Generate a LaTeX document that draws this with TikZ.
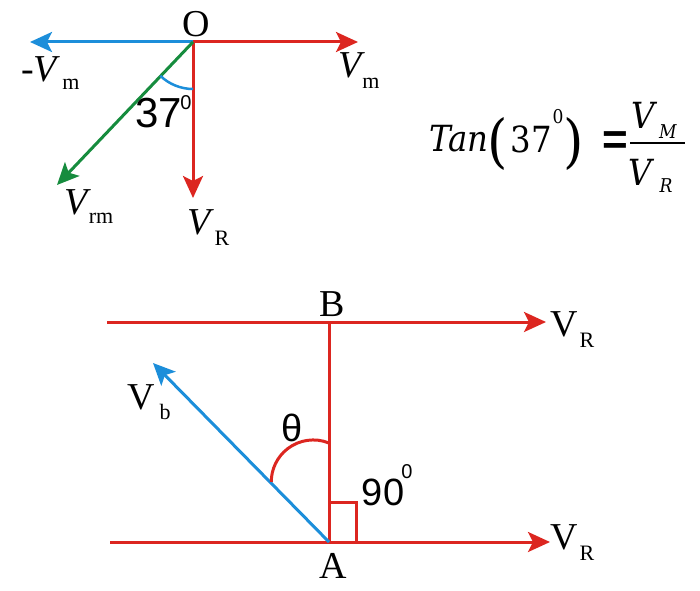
\documentclass[tikz,border=0pt]{standalone}
\usepackage{fontspec}
\setmainfont{Liberation Serif}
\setsansfont{Liberation Sans}
\newfontfamily\eqfont[FakeStretch=0.9]{DejaVu Serif}
\usetikzlibrary{arrows.meta}
\definecolor{vred}{RGB}{220,38,32}
\definecolor{vblue}{RGB}{28,142,218}
\definecolor{vgreen}{RGB}{22,140,62}
\tikzset{
  vec/.style={line width=3pt,-{Stealth[length=22pt,width=20pt,inset=5pt]}},
  big/.style={font=\fontsize{38}{38}\selectfont,inner sep=0pt},
  sub/.style={font=\fontsize{22}{22}\selectfont,inner sep=0pt},
  sbig/.style={font=\sffamily\fontsize{38}{38}\selectfont,inner sep=0pt},
  ssub/.style={font=\sffamily\fontsize{20}{20}\selectfont,inner sep=0pt},
  ebig/.style={font=\eqfont\fontsize{36}{36}\selectfont,inner sep=0pt},
  esub/.style={font=\eqfont\fontsize{19}{19}\selectfont,inner sep=0pt},
}
\begin{document}
\begin{tikzpicture}[x=1pt,y=1pt]
  \useasboundingbox (0,0) rectangle (700,590);
  % relative velocity triangle
  \coordinate (O) at (193,548);
  \coordinate (negm) at (30,548);
  \coordinate (mtip) at (358,548);
  \coordinate (Rtip) at (193,392);
  \coordinate (rmtip) at (57,405);
  \draw[vec,vblue] (O) -- (negm);
  \draw[vec,vred] (O) -- (mtip);
  \draw[vec,vred] (O) -- (Rtip);
  \draw[vec,vgreen] (O) -- (rmtip);
  \draw[vblue,line width=2.5pt] (O) ++(-90:47) arc[start angle=-90,end angle=-134,radius=47];
  \node[big] (lO) at (196,566) {O};
  \node[big] (lnegV) at (41,521) {-\textit{V}};
  \node[sub] (lnegm) at (71,506) {m};
  \node[big] (lV) at (352,525) {\textit{V}};
  \node[sub] (lm) at (371,507) {m};
  \node[sbig,font=\sffamily\fontsize{42}{42}\selectfont] (l37) at (159,477) {37};
  \node[ssub] (l37d) at (186,487) {0};
  \node[big] (lVrm) at (78,388) {\textit{V}};
  \node[sub] (lrm) at (101,372) {rm};
  \node[big] (lVR) at (201,368) {\textit{V}};
  \node[sub] (lR) at (222,352) {R};
  % tan relation
  \node[ebig] (tan) at (459,451) {\textit{Tan}};
  \node[ebig,font=\eqfont\fontsize{58}{58}\selectfont] (lpar) at (498,446) {(};
  \node[ebig] (t37) at (531,451) {37};
  \node[esub] (t37d) at (558,473) {0};
  \node[ebig,font=\eqfont\fontsize{58}{58}\selectfont] (rpar) at (574,446) {)};
  \node[sbig,font=\sffamily\bfseries\fontsize{44}{44}\selectfont] (eq) at (615,447) {=};
  \coordinate (barL) at (630,447);
  \coordinate (barR) at (685,447);
  \draw[line width=1.5pt] (barL) -- (barR);
  \node[ebig] (fVM) at (645,475) {\textit{V}};
  \node[esub] (fM) at (668,458) {\textit{M}};
  \node[ebig] (fVR) at (642,418) {\textit{V}};
  \node[esub] (fR) at (666,404) {\textit{R}};
  % river crossing
  \coordinate (B) at (329,268);
  \coordinate (A) at (329,48);
  \coordinate (topL) at (107,268);
  \coordinate (topR) at (546,268);
  \coordinate (botL) at (110,48);
  \coordinate (botR) at (550,48);
  \coordinate (btip) at (153,227);
  \draw[vec,vred] (topL) -- (topR);
  \draw[vec,vred] (botL) -- (botR);
  \draw[vred,line width=3pt] (A) -- (B);
  \draw[vred,line width=3pt] (A) ++(0,40) -| ++(27,-40);
  \draw[vec,vblue] (A) -- (btip);
  \draw[vred,line width=3pt] (329,147) arc[start angle=68,end angle=180,radius=42];
  \node[big] (lB) at (332,286) {B};
  \node[big] (lA) at (333,24) {A};
  \node[big] (lVb) at (141,193) {V};
  \node[sub] (lb) at (165,178) {b};
  \node[sbig] (lth) at (292,162) {θ};
  \node[sbig] (l90) at (383,98) {90};
  \node[ssub] (l90d) at (407,118) {0};
  \node[big] (lVR1) at (564,266) {V};
  \node[sub] (lR1) at (587,250) {R};
  \node[big] (lVR2) at (564,53) {V};
  \node[sub] (lR2) at (587,37) {R};
\end{tikzpicture}
\end{document}
